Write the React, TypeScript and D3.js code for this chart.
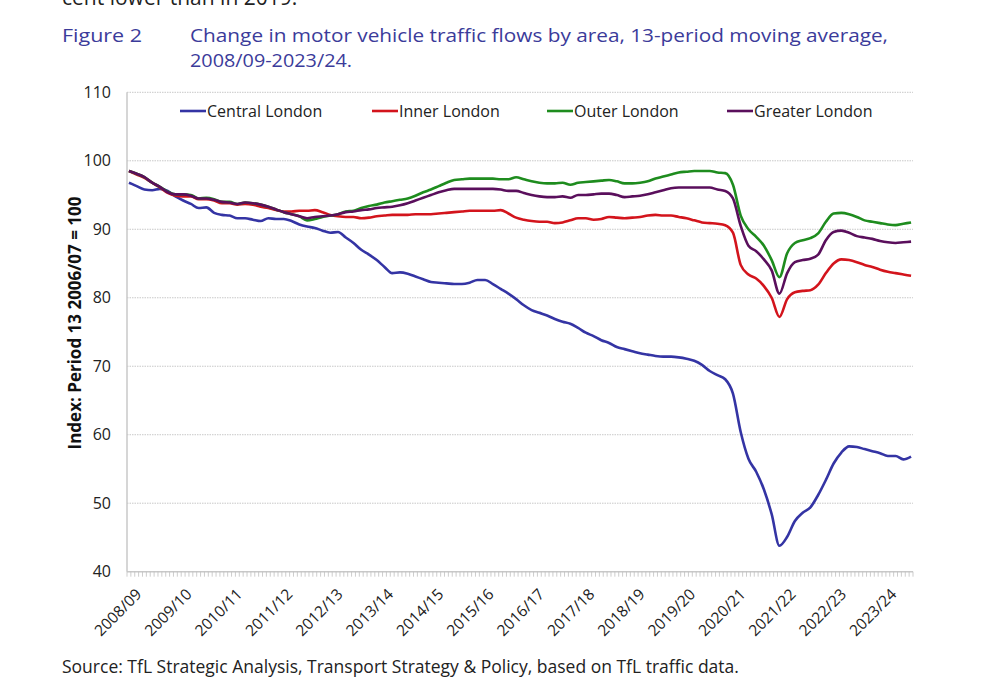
import React from "react";
import * as d3 from "d3";

// Period index of each sample (every 2nd four-week period, 2008/09 P1 onward)
const TOTAL_PERIODS = 203;
const yearLabels = ["2008/09","2009/10","2010/11","2011/12","2012/13","2013/14","2014/15","2015/16","2016/17","2017/18","2018/19","2019/20","2020/21","2021/22","2022/23","2023/24"];
const yTicks = [40, 50, 60, 70, 80, 90, 100, 110];

const central = [96.8,96.3,95.8,95.7,95.9,95.6,94.8,94.2,93.7,93.1,93.2,92.4,92.1,92.0,91.6,91.6,91.4,91.2,91.6,91.5,91.5,91.2,90.7,90.4,90.2,89.8,89.5,89.6,88.8,88.0,87.0,86.3,85.5,84.5,83.6,83.7,83.5,83.1,82.7,82.3,82.2,82.1,82.0,82.0,82.2,82.6,82.6,82.0,81.3,80.6,79.8,78.9,78.2,77.8,77.4,76.9,76.5,76.2,75.6,74.9,74.4,73.8,73.4,72.8,72.5,72.2,71.9,71.7,71.5,71.4,71.4,71.3,71.1,70.8,70.2,69.3,68.7,68.1,66.0,60.4,56.5,54.6,52.0,48.4,43.8,45.1,47.4,48.6,49.4,51.2,53.4,55.8,57.4,58.3,58.2,57.9,57.6,57.3,56.9,56.9,56.4,56.8];
const inner = [98.5,98.0,97.5,96.8,96.1,95.3,94.9,94.8,94.8,94.4,94.4,94.2,93.8,93.8,93.6,93.7,93.6,93.3,93.1,92.8,92.6,92.6,92.7,92.7,92.8,92.5,92.1,91.9,91.8,91.8,91.6,91.7,91.9,92.0,92.1,92.1,92.1,92.2,92.2,92.2,92.3,92.4,92.5,92.6,92.7,92.7,92.7,92.7,92.8,92.3,91.7,91.4,91.2,91.1,91.1,90.9,91.0,91.3,91.6,91.6,91.4,91.5,91.8,91.7,91.6,91.7,91.8,92.0,92.1,92.0,92.0,91.8,91.6,91.3,91.0,90.9,90.8,90.6,89.5,84.8,83.4,82.8,81.7,80.0,77.2,79.8,80.8,81.0,81.1,81.9,83.6,85.0,85.6,85.5,85.2,84.8,84.5,84.1,83.8,83.6,83.4,83.2];
const outer = [98.5,98.1,97.6,96.8,96.2,95.5,95.1,95.1,95.0,94.5,94.6,94.4,94.0,94.0,93.7,93.9,93.8,93.6,93.3,92.9,92.5,92.2,91.9,91.3,91.5,91.8,92.0,92.2,92.6,92.7,93.1,93.4,93.6,93.9,94.1,94.3,94.5,94.9,95.4,95.8,96.3,96.8,97.2,97.3,97.4,97.4,97.4,97.4,97.3,97.3,97.6,97.3,97.0,96.8,96.7,96.7,96.8,96.5,96.8,96.9,97.0,97.1,97.2,97.0,96.7,96.7,96.8,97.0,97.4,97.7,98.0,98.3,98.4,98.5,98.5,98.5,98.3,98.2,96.5,92.0,90.0,88.9,87.6,85.5,83.0,86.5,88.0,88.4,88.7,89.4,91.1,92.3,92.4,92.2,91.8,91.3,91.1,90.9,90.7,90.6,90.8,91.0];
const greater = [98.5,98.1,97.6,96.8,96.2,95.4,95.1,95.1,94.9,94.5,94.5,94.3,94.0,93.9,93.7,93.9,93.8,93.6,93.3,92.9,92.5,92.2,91.9,91.6,91.8,91.9,92.0,92.2,92.5,92.6,92.8,92.9,93.1,93.2,93.3,93.5,93.8,94.2,94.6,95.0,95.4,95.7,95.9,95.9,95.9,95.9,95.9,95.9,95.8,95.6,95.6,95.3,95.0,94.8,94.7,94.7,94.8,94.6,95.0,95.0,95.1,95.2,95.2,95.0,94.7,94.8,94.9,95.1,95.4,95.7,96.0,96.1,96.1,96.1,96.1,96.1,95.8,95.6,94.5,90.5,87.6,86.8,85.6,84.0,80.6,83.6,85.2,85.5,85.7,86.3,88.4,89.6,89.8,89.5,89.0,88.8,88.6,88.3,88.1,88.0,88.1,88.2];

const seriesNames = ["Central London", "Inner London", "Outer London", "Greater London"];
const seriesData = [central, inner, outer, greater];
const seriesColors = ["#3434a4", "#d3141c", "#1e8c1e", "#5a0f5c"];

const FONT = "'Open Sans', 'DejaVu Sans', sans-serif";

export default function App() {
  const left = 127, right = 913, top = 92.3, bottom = 571.7;
  const x = d3.scaleLinear().domain([0, TOTAL_PERIODS]).range([left, right]);
  const y = d3.scaleLinear().domain([40, 110]).range([bottom, top]);
  const line = d3.line<number>()
    .x((_, k) => x(k * 2 + 0.5))
    .y((v) => y(v))
    .curve(d3.curveMonotoneX);

  const periodTicks = d3.range(TOTAL_PERIODS + 1);
  const legendX = [180, 372, 547, 727];

  return (
    <svg width={1000} height={698} style={{ position: "absolute", left: 0, top: 0, background: "#fff" }} fontFamily={FONT}>
      <text x={62} y={5} fontSize={21} fill="#222">cent lower than in 2019.</text>
      <text x={62} y={42} fontSize={19} fill="#3b3b9a" textLength={80} lengthAdjust="spacingAndGlyphs">Figure 2</text>
      <text x={190} y={42} fontSize={19} fill="#3b3b9a" textLength={698} lengthAdjust="spacingAndGlyphs">Change in motor vehicle traffic flows by area, 13-period moving average,</text>
      <text x={190} y={67} fontSize={19} fill="#3b3b9a" textLength={162} lengthAdjust="spacingAndGlyphs">2008/09-2023/24.</text>

      {yTicks.filter(t => t > 40).map(t => (
        <line key={t} x1={left} x2={right} y1={y(t)} y2={y(t)} stroke="#c8c8c8" strokeWidth={1} strokeDasharray="1.5,1" />
      ))}
      <line x1={left} x2={left} y1={top} y2={bottom} stroke="#c8c8c8" strokeWidth={1.5} />
      <line x1={left} x2={right} y1={bottom} y2={bottom} stroke="#c8c8c8" strokeWidth={1.5} />
      {periodTicks.map(i => (
        <line key={i} x1={x(i)} x2={x(i)} y1={bottom} y2={bottom + 5} stroke="#c0c0c0" strokeWidth={0.8} />
      ))}

      {yTicks.map(t => (
        <text key={t} x={111} y={y(t) + 5.5} textAnchor="end" fontSize={16} fill="#222">{t}</text>
      ))}

      {yearLabels.map((lab, j) => {
        const cx = x(j * 13 + 0.5) + 4;
        const cy = bottom + 14;
        return (
          <text key={lab} x={cx} y={cy} textAnchor="end" fontSize={15.5} fill="#222"
            transform={`rotate(-45, ${cx}, ${cy})`} dominantBaseline="hanging">{lab}</text>
        );
      })}

      <text transform={`translate(81, 323) rotate(-90)`} textAnchor="middle" fontSize={17} fontWeight="bold" fill="#111">Index: Period 13 2006/07 = 100</text>

      {seriesData.map((d, s) => (
        <path key={s} d={line(d) || ""} fill="none" stroke={seriesColors[s]} strokeWidth={2.6} strokeLinejoin="round" />
      ))}

      {seriesNames.map((n, s) => (
        <g key={n}>
          <line x1={legendX[s]} x2={legendX[s] + 26} y1={111} y2={111} stroke={seriesColors[s]} strokeWidth={2.6} />
          <text x={legendX[s] + 27} y={116.5} fontSize={16} fill="#222">{n}</text>
        </g>
      ))}

      <text x={62} y={673} fontSize={17.5} fill="#222">Source: TfL Strategic Analysis, Transport Strategy &amp; Policy, based on TfL traffic data.</text>
    </svg>
  );
}
